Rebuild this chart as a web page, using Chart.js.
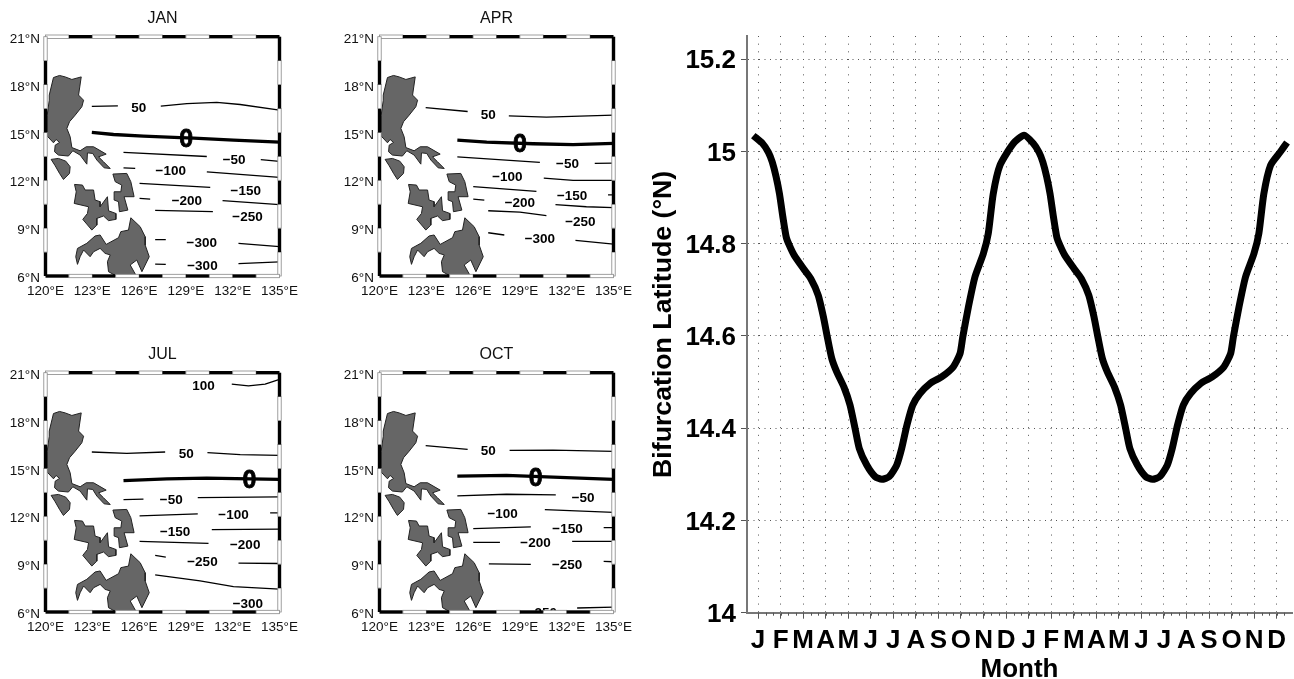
<!DOCTYPE html>
<html>
<head>
<meta charset="utf-8">
<title>Bifurcation latitude</title>
<script src="https://cdn.jsdelivr.net/npm/chart.js@4"></script>
<style>
  html, body { margin: 0; padding: 0; background: #fff; overflow: hidden; }
  canvas { position: absolute; }
</style>
</head>
<body>
<canvas id="jan" width="320" height="320" style="left:0;top:0"></canvas>
<canvas id="apr" width="320" height="320" style="left:334px;top:0"></canvas>
<canvas id="jul" width="320" height="320" style="left:0;top:336px"></canvas>
<canvas id="oct" width="320" height="320" style="left:334px;top:336px"></canvas>
<canvas id="bif" width="654" height="679" style="left:640px;top:0"></canvas>
<script>
const lonTicks = [120, 123, 126, 129, 132, 135];
const latTicks = [6, 9, 12, 15, 18, 21];

// land outlines, [lon, lat]
const luzon = [[120.24,17.34],[120.51,18.44],[120.9,18.57],[121.26,18.48],[121.69,18.32],[122.29,18.48],[122.12,17.34],[122.44,17.02],[122.33,16.61],[121.9,16.08],[121.54,15.67],[121.37,15.25],[121.58,14.73],[121.69,14.05],[122.22,13.85],[122.61,14.1],[123.08,14.1],[123.89,13.64],[123.4,13.47],[123.72,13.16],[124.15,12.74],[123.76,12.78],[123.29,13.27],[123.03,13.68],[122.69,13.72],[122.65,13.01],[122.22,13.58],[121.75,13.85],[121.47,13.52],[120.83,13.58],[120.58,13.79],[120.62,14.2],[120.9,14.37],[120.68,14.56],[120.51,14.35],[120.11,14.77],[120.11,16.08],[120.24,17.02],[120.24,17.34]];
const mindoro = [[120.36,13.31],[120.83,13.37],[121.3,13.2],[121.58,12.85],[121.54,12.43],[121.15,12.05],[120.9,12.43],[120.62,12.91],[120.36,13.31]];
const samar = [[124.32,12.39],[125.21,12.43],[125.47,11.91],[125.68,10.97],[125.04,10.97],[125.28,10.13],[124.74,10.03],[124.68,10.66],[124.4,10.76],[124.4,11.28],[124.83,11.28],[124.89,11.7],[124.47,11.91],[124.32,12.39]];
const visayas = [[121.86,11.74],[122.37,11.7],[122.54,11.39],[123.08,11.39],[123.18,10.76],[123.5,10.66],[123.5,10.34],[123.97,10.97],[124.04,10.09],[124.51,9.92],[124.51,9.55],[124.04,9.47],[123.72,9.76],[123.29,9.61],[123.29,9.19],[122.97,8.88],[122.39,9.55],[122.69,9.92],[122.76,10.34],[121.84,10.55],[121.97,11.28],[121.86,11.74]];
const mindanao = [[122.05,7.73],[122.65,8.05],[123.18,8.51],[123.5,8.57],[123.89,7.98],[124.68,8.4],[124.83,8.78],[125.32,8.88],[125.47,9.65],[126.07,9.09],[126.39,8.46],[126.39,7.94],[126.65,7.21],[126.18,6.27],[125.85,7.0],[125.43,6.69],[125.79,6.06],[124.47,6.04],[124.04,6.27],[123.97,6.9],[124.15,7.32],[123.82,7.42],[123.5,7.73],[123.08,7.52],[122.86,7.21],[122.44,7.63],[122.22,7.21],[122.05,6.73],[121.94,7.21],[122.05,7.73]];
const landShapes = [luzon, mindoro, samar, visayas, mindanao];

// contour pieces per month, levels line up with the pieces
const janLevels = [50, 50, 0, -50, -50, -100, -100, -150, -200, -200, -250, -300, -300, -300, -300];
const janLines = [
  [[122.97,16.63],[124.64,16.67]],
  [[127.39,16.65],[129.06,16.81],[130.98,16.88],[132.48,16.75],[135,16.4]],
  [[122.97,15.0],[124.36,14.87],[126.28,14.77],[128.63,14.68],[129.5,14.64],[132.05,14.52],[135,14.39]],
  [[125,13.75],[130.34,13.49]],
  [[133.8,13.29],[135,13.18]],
  [[125,12.78],[125.75,12.74]],
  [[130.34,12.53],[135,12.18]],
  [[126.03,11.8],[130.56,11.55]],
  [[126.03,10.86],[126.71,10.82]],
  [[131.35,10.72],[135,10.47]],
  [[127.03,10.11],[130.73,10.03]],
  [[127.03,8.28],[127.71,8.28]],
  [[132.37,8.05],[135,7.84]],
  [[127.03,6.75],[127.71,6.73]],
  [[132.37,6.77],[135,6.88]]
];
const janLabels = [['50',125.98,16.6],['0',129.02,14.6],['\u221250',132.09,13.33],['\u2212100',128.03,12.6],['\u2212150',132.84,11.39],['\u2212200',129.06,10.76],['\u2212250',132.95,9.72],['\u2212300',130.02,8.11],['\u2212300',130.06,6.69]];

const aprLevels = [50, 50, 0, -50, -50, -100, -150, -150, -200, -200, -250, -300, -300];
const aprLines = [
  [[122.96,16.56],[125.65,16.31]],
  [[128.29,16.04],[130.7,15.96],[135,16.08]],
  [[124.99,14.52],[126.87,14.39],[129.85,14.29],[132.41,14.23],[135,14.31]],
  [[124.99,13.47],[130.28,13.12]],
  [[133.8,13.06],[135,13.08]],
  [[130.53,12.14],[132.41,11.99],[135,11.99]],
  [[126.01,11.6],[130.06,11.3]],
  [[134.65,11.09],[135,11.09]],
  [[126.01,10.82],[126.72,10.76]],
  [[131.28,10.47],[133.26,10.34],[135,10.28]],
  [[126.97,10.09],[129,10.01],[130.7,9.78]],
  [[126.97,8.71],[128,8.57]],
  [[132.56,8.23],[135,8.0]]
];
const aprLabels = [['50',126.97,16.12],['0',129,14.27],['\u221250',132.05,13.06],['\u2212100',128.2,12.22],['\u2212150',132.35,11.09],['\u2212200',129,10.59],['\u2212250',132.88,9.4],['\u2212300',130.28,8.38]];

const julLevels = [100, 50, 50, 0, -50, -50, -100, -100, -150, -200, -250, -250, -300];
const julLines = [
  [[131.94,20.29],[133.01,20.18],[134.08,20.29],[135,20.58]],
  [[122.97,16.03],[125.21,15.94],[127.67,16.03]],
  [[130.38,15.99],[132.48,15.86],[135,15.82]],
  [[125,14.24],[127.78,14.35],[130.34,14.39],[135,14.31]],
  [[125,13.05],[126.28,13.07]],
  [[129.76,13.17],[135,13.22]],
  [[126.03,12.02],[129.76,12.15]],
  [[134.4,12.21],[135,12.21]],
  [[130.66,11.16],[135,11.2]],
  [[126.03,10.43],[130.45,10.3]],
  [[127.03,9.55],[127.71,9.44]],
  [[132.37,9.06],[135,9.04]],
  [[127.03,8.33],[129.91,7.95],[132.05,7.59],[135,7.43]]
];
const julLabels = [['100',130.13,20.22],['50',129.02,15.94],['0',133.08,14.27],['\u221250',128.06,13.07],['\u2212100',132.05,12.1],['\u2212150',128.31,11.08],['\u2212200',132.8,10.26],['\u2212250',130.06,9.19],['\u2212300',132.97,6.57]];

const octLevels = [50, 50, 0, -50, -100, -150, -150, -200, -200, -250, -250, -250];
const octLines = [
  [[122.96,16.43],[125.65,16.2]],
  [[128.34,16.13],[131.13,16.15],[135,16.07]],
  [[124.99,14.52],[128.14,14.56],[131.13,14.45],[135,14.31]],
  [[124.99,13.28],[128.14,13.38],[131.3,13.34]],
  [[130.6,12.42],[135,12.25]],
  [[126.01,11.22],[129.7,11.33]],
  [[134.37,11.29],[135,11.29]],
  [[126.01,10.36],[127.72,10.36]],
  [[132.35,10.43],[135,10.43]],
  [[127.01,9.02],[129.7,8.98]],
  [[134.37,9.17],[135,9.15]],
  [[132.67,6.25],[135,6.31]]
];
const octLabels = [['50',126.97,16.13],['0',130.02,14.39],['\u221250',133.05,13.22],['\u2212100',127.89,12.21],['\u2212150',132.05,11.27],['\u2212200',130,10.34],['\u2212250',132.03,9.02],['\u2212250',130.4,6.0]];

// right panel
const monthLetters = ['J','F','M','A','M','J','J','A','S','O','N','D','J','F','M','A','M','J','J','A','S','O','N','D'];
const yTicks = [14, 14.2, 14.4, 14.6, 14.8, 15, 15.2];
const monthPos = [0.79,1.2,1.46,1.63,1.8,1.95,2.1,2.25,2.39,2.6,3.01,3.34,3.67,3.9,4.07,4.27,4.49,4.81,5.08,5.3,5.49,5.82,6.19,6.49,6.82,7.15,7.37,7.6,7.86,8.18,8.63,9.14,9.66,9.96,10.08,10.33,10.62,10.99,11.21,11.43,11.73,12.32,12.8,13.21,13.46,13.63,13.8,13.95,14.1,14.25,14.39,14.6,15.01,15.34,15.67,15.9,16.07,16.27,16.49,16.81,17.08,17.3,17.49,17.82,18.19,18.49,18.82,19.15,19.37,19.6,19.86,20.18,20.63,21.14,21.66,21.96,22.08,22.33,22.62,22.99,23.21,23.43,23.73,24.15,24.46];
const bifLat = [15.034,15.017,14.998,14.977,14.945,14.908,14.858,14.814,14.796,14.775,14.746,14.724,14.688,14.641,14.598,14.551,14.522,14.489,14.45,14.4,14.356,14.32,14.295,14.289,14.295,14.32,14.356,14.406,14.45,14.475,14.497,14.511,14.533,14.562,14.598,14.663,14.728,14.778,14.822,14.908,14.97,15.017,15.035,15.017,14.998,14.977,14.945,14.908,14.858,14.814,14.796,14.775,14.746,14.724,14.688,14.641,14.598,14.551,14.522,14.489,14.45,14.4,14.356,14.32,14.295,14.289,14.295,14.32,14.356,14.406,14.45,14.475,14.497,14.511,14.533,14.562,14.598,14.663,14.728,14.778,14.822,14.908,14.97,14.998,15.019];

Chart.defaults.font.family = "'Liberation Sans', Arial, sans-serif";
Chart.defaults.color = '#111';
Chart.defaults.animation = false;

// labels on the contours, then the black/white map border
const mapOverlay = {
  id: 'mapOverlay',
  afterDatasetsDraw(chart, args, opts) {
    const { ctx, chartArea: a, scales: { x, y } } = chart;
    ctx.save();
    ctx.beginPath();
    ctx.rect(a.left, a.top, a.width, a.height);
    ctx.clip();
    ctx.textAlign = 'center';
    ctx.textBaseline = 'middle';
    ctx.fillStyle = '#000';
    ctx.strokeStyle = '#000';
    opts.labels.forEach(([txt, lon, lat]) => {
      const px = x.getPixelForValue(lon), py = y.getPixelForValue(lat) + 1;
      ctx.font = (txt === '0' ? 'bold 25px ' : 'bold 13.5px ') + Chart.defaults.font.family;
      ctx.fillText(txt, px, py);
      if (txt === '0') {
        ctx.lineWidth = 0.8;
        ctx.strokeText(txt, px, py);
      }
    });
    ctx.restore();

    const t = 3.4;
    const seg = (x0, y0, w, h, black) => {
      ctx.fillStyle = black ? '#000' : '#fff';
      ctx.fillRect(x0, y0, w, h);
      if (!black) {
        ctx.strokeStyle = '#888';
        ctx.lineWidth = 0.8;
        ctx.strokeRect(x0, y0, w, h);
      }
    };
    ctx.save();
    for (let i = 0; i < 10; i++) {
      const xa = x.getPixelForValue(120 + i * 1.5), xb = x.getPixelForValue(120 + (i + 1) * 1.5);
      const ya = y.getPixelForValue(6 + i * 1.5), yb = y.getPixelForValue(6 + (i + 1) * 1.5);
      seg(xa, a.top - t / 2, xb - xa, t, i % 2 === 1);
      seg(xa, a.bottom - t / 2, xb - xa, t, i % 2 === 0);
      seg(a.left - t / 2, yb, t, ya - yb, i % 2 === 0);
      seg(a.right - t / 2, yb, t, ya - yb, i % 2 === 1);
    }
    ctx.restore();
  }
};

function mapChart(id, name, levels, lines, labels) {
  const land = landShapes.map(shape => ({
    data: shape.map(p => ({ x: p[0], y: p[1] })),
    showLine: true,
    fill: 'shape',
    backgroundColor: '#666',
    borderColor: '#222',
    borderWidth: 1,
    pointRadius: 0
  }));
  const contours = lines.map((seg, i) => ({
    data: seg.map(p => ({ x: p[0], y: p[1] })),
    showLine: true,
    borderColor: '#000',
    borderWidth: levels[i] === 0 ? 3.3 : 1.3,
    pointRadius: 0
  }));
  new Chart(document.getElementById(id), {
    type: 'scatter',
    data: { datasets: land.concat(contours) },
    plugins: [mapOverlay],
    options: {
      responsive: false,
      layout: { padding: { left: 0, right: 40.5, top: 0, bottom: 0 } },
      plugins: {
        legend: { display: false },
        tooltip: { enabled: false },
        title: {
          display: true,
          text: name,
          fullSize: false,
          font: { size: 16, weight: 'normal', lineHeight: 1.2 },
          color: '#111',
          padding: { top: 9, bottom: 8.5 }
        },
        mapOverlay: { labels }
      },
      scales: {
        x: {
          type: 'linear', min: 120, max: 135,
          grid: { display: false, drawTicks: false },
          border: { display: false },
          ticks: {
            stepSize: 3, autoSkip: false, maxRotation: 0, padding: 7,
            font: { size: 13.5 },
            callback: v => lonTicks.includes(v) ? v + '\u00b0E' : ''
          },
          afterFit: s => { s.height = 44; s.paddingLeft = 0; s.paddingRight = 0; }
        },
        y: {
          type: 'linear', min: 6, max: 21,
          grid: { display: false, drawTicks: false },
          border: { display: false },
          ticks: {
            stepSize: 3, autoSkip: false, padding: 5.5, labelOffset: 2.5,
            font: { size: 13.5 },
            callback: v => latTicks.includes(v) ? v + '\u00b0N' : ''
          },
          afterFit: s => { s.width = 45.5; s.paddingTop = 0; s.paddingBottom = 0; }
        }
      }
    }
  });
}

mapChart('jan', 'JAN', janLevels, janLines, janLabels);
mapChart('apr', 'APR', aprLevels, aprLines, aprLabels);
mapChart('jul', 'JUL', julLevels, julLines, julLabels);
mapChart('oct', 'OCT', octLevels, octLines, octLabels);

// small ticks between the months
const minorTicks = {
  id: 'minorTicks',
  afterDraw(chart) {
    const { ctx, chartArea: a, scales: { x } } = chart;
    ctx.save();
    ctx.strokeStyle = '#555';
    ctx.lineWidth = 1;
    ctx.beginPath();
    for (let v = 1; v <= 24.5; v += 1 / 3) {
      const px = Math.round(x.getPixelForValue(v)) + 0.5;
      ctx.moveTo(px, a.bottom);
      ctx.lineTo(px, a.bottom + 3);
    }
    ctx.stroke();
    ctx.restore();
  }
};

new Chart(document.getElementById('bif'), {
  type: 'scatter',
  data: {
    datasets: [{
      data: monthPos.map((m, i) => ({ x: m, y: bifLat[i] })),
      showLine: true,
      borderColor: '#000',
      borderWidth: 7,
      tension: 0.2,
      pointRadius: 0
    }]
  },
  plugins: [minorTicks],
  options: {
    responsive: false,
    layout: { padding: { left: 0, right: 2, top: 36, bottom: 0 } },
    plugins: { legend: { display: false }, tooltip: { enabled: false } },
    scales: {
      x: {
        type: 'linear', min: 0.51, max: 24.68,
        grid: { color: '#555', lineWidth: 1, tickLength: 6, tickColor: '#555', tickBorderDash: [] },
        border: { display: true, color: '#777', width: 2, dash: [1, 6.67] },
        ticks: {
          stepSize: 1, autoSkip: false, includeBounds: false, maxRotation: 0, padding: 6.5,
          color: '#000',
          font: { size: 26, weight: 'bold' },
          callback: v => monthLetters[v - 1] || ''
        },
        title: {
          display: true, text: 'Month', color: '#000',
          font: { size: 26, weight: 'bold', lineHeight: 0.7 },
          padding: { top: 0, bottom: 0 }
        },
        afterFit: s => { s.height = 66.3; s.paddingLeft = 0; s.paddingRight = 0; }
      },
      y: {
        type: 'linear', min: 14, max: 15.25,
        grid: { color: '#555', lineWidth: 1, tickLength: 6, tickColor: '#555', tickBorderDash: [] },
        border: { display: true, color: '#777', width: 2, dash: [1, 4.5] },
        ticks: {
          stepSize: 0.2, includeBounds: false, autoSkip: false, padding: 5, labelOffset: 2,
          color: '#000',
          font: { size: 26, weight: 'bold' },
          callback: v => yTicks.some(t => Math.abs(t - v) < 1e-6) ? String(+v.toFixed(1)) : ''
        },
        title: {
          display: true, text: 'Bifurcation Latitude (\u00b0N)', color: '#000',
          font: { size: 26.7, weight: 'bold', lineHeight: 1.2 },
          padding: { top: 8, bottom: 0 }
        },
        afterFit: s => { s.width = 107; s.paddingTop = 0; s.paddingBottom = 0; }
      }
    }
  }
});
</script>
</body>
</html>
